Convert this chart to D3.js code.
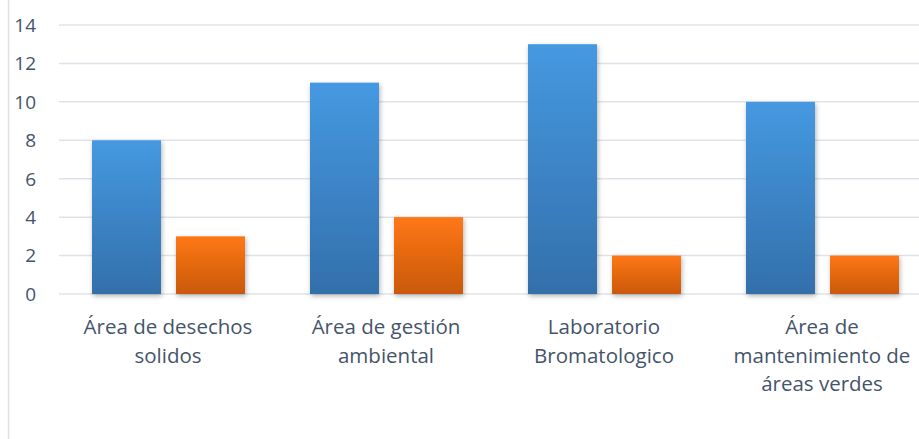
<!DOCTYPE html>
<html lang="es">
<head>
<meta charset="utf-8">
<style>
  body { margin: 0; background: #fff; }
  svg { display: block; }
  text { font-family: "Open Sans", "Noto Sans", sans-serif; fill: #44546a; }
</style>
</head>
<body>
<div id="chart"></div>
<script src="https://d3js.org/d3.v7.min.js"></script>
<script>
// data
var categories = [
  ["Área de desechos", "solidos"],
  ["Área de gestión", "ambiental"],
  ["Laboratorio", "Bromatologico"],
  ["Área de", "mantenimiento de", "áreas verdes"]
];
var seriesBlue = [8, 11, 13, 10];
var seriesOrange = [3, 4, 2, 2];
var yTicks = [0, 2, 4, 6, 8, 10, 12, 14];

var W = 919, H = 439;
var svg = d3.select("#chart").append("svg")
  .attr("width", W).attr("height", H);

var defs = svg.append("defs");
var gb = defs.append("linearGradient").attr("id", "gBlue")
  .attr("x1", 0).attr("y1", 0).attr("x2", 0).attr("y2", 1);
gb.append("stop").attr("offset", "0%").attr("stop-color", "#4599e1");
gb.append("stop").attr("offset", "100%").attr("stop-color", "#336fab");
var go = defs.append("linearGradient").attr("id", "gOrange")
  .attr("x1", 0).attr("y1", 0).attr("x2", 0).attr("y2", 1);
go.append("stop").attr("offset", "0%").attr("stop-color", "#ff7713");
go.append("stop").attr("offset", "100%").attr("stop-color", "#c9590e");
var sh = defs.append("filter").attr("id", "shadow")
  .attr("x", "-20%").attr("y", "-10%").attr("width", "140%").attr("height", "130%");
sh.append("feDropShadow").attr("dx", 1).attr("dy", 2).attr("stdDeviation", 2.5)
  .attr("flood-color", "#000").attr("flood-opacity", 0.3);

// left border of chart area
svg.append("line").attr("x1", 8.5).attr("x2", 8.5).attr("y1", 0).attr("y2", H)
  .attr("stroke", "#dde1e7").attr("stroke-width", 1.5);

var x = d3.scaleBand().domain(d3.range(categories.length))
  .range([59, 931]).paddingOuter(0).paddingInner(0);
var y = d3.scaleLinear().domain([0, 14]).range([294, 25]);

// gridlines
svg.append("g").selectAll("line").data(yTicks).enter().append("line")
  .attr("x1", 59).attr("x2", W)
  .attr("y1", function (d) { return y(d); })
  .attr("y2", function (d) { return y(d); })
  .attr("stroke", "#dfe3e9").attr("stroke-width", 1.5);

// y tick labels
svg.append("g").selectAll("text").data(yTicks).enter().append("text")
  .attr("x", 36).attr("y", function (d) { return y(d); })
  .attr("dy", "0.36em").attr("text-anchor", "end")
  .style("font-size", "19px")
  .text(function (d) { return d; });

var barW = 69, off = 33, gap = 15;

svg.append("g").selectAll("rect").data(seriesBlue).enter().append("rect")
  .attr("x", function (d, i) { return x(i) + off; })
  .attr("y", function (d) { return y(d); })
  .attr("width", barW)
  .attr("height", function (d) { return y(0) - y(d); })
  .attr("fill", "url(#gBlue)").attr("filter", "url(#shadow)");

svg.append("g").selectAll("rect").data(seriesOrange).enter().append("rect")
  .attr("x", function (d, i) { return x(i) + off + barW + gap; })
  .attr("y", function (d) { return y(d); })
  .attr("width", barW)
  .attr("height", function (d) { return y(0) - y(d); })
  .attr("fill", "url(#gOrange)").attr("filter", "url(#shadow)");

// category labels
var lab = svg.append("g").selectAll("text").data(categories).enter().append("text")
  .attr("text-anchor", "middle")
  .style("font-size", "20.5px")
  .attr("x", function (d, i) { return x(i) + x.bandwidth() / 2; })
  .attr("y", 334);
lab.selectAll("tspan").data(function (d) { return d; }).enter().append("tspan")
  .attr("x", function () { return d3.select(this.parentNode).attr("x"); })
  .attr("dy", function (d, i) { return i === 0 ? 0 : 28.5; })
  .text(function (d) { return d; });
</script>
</body>
</html>
